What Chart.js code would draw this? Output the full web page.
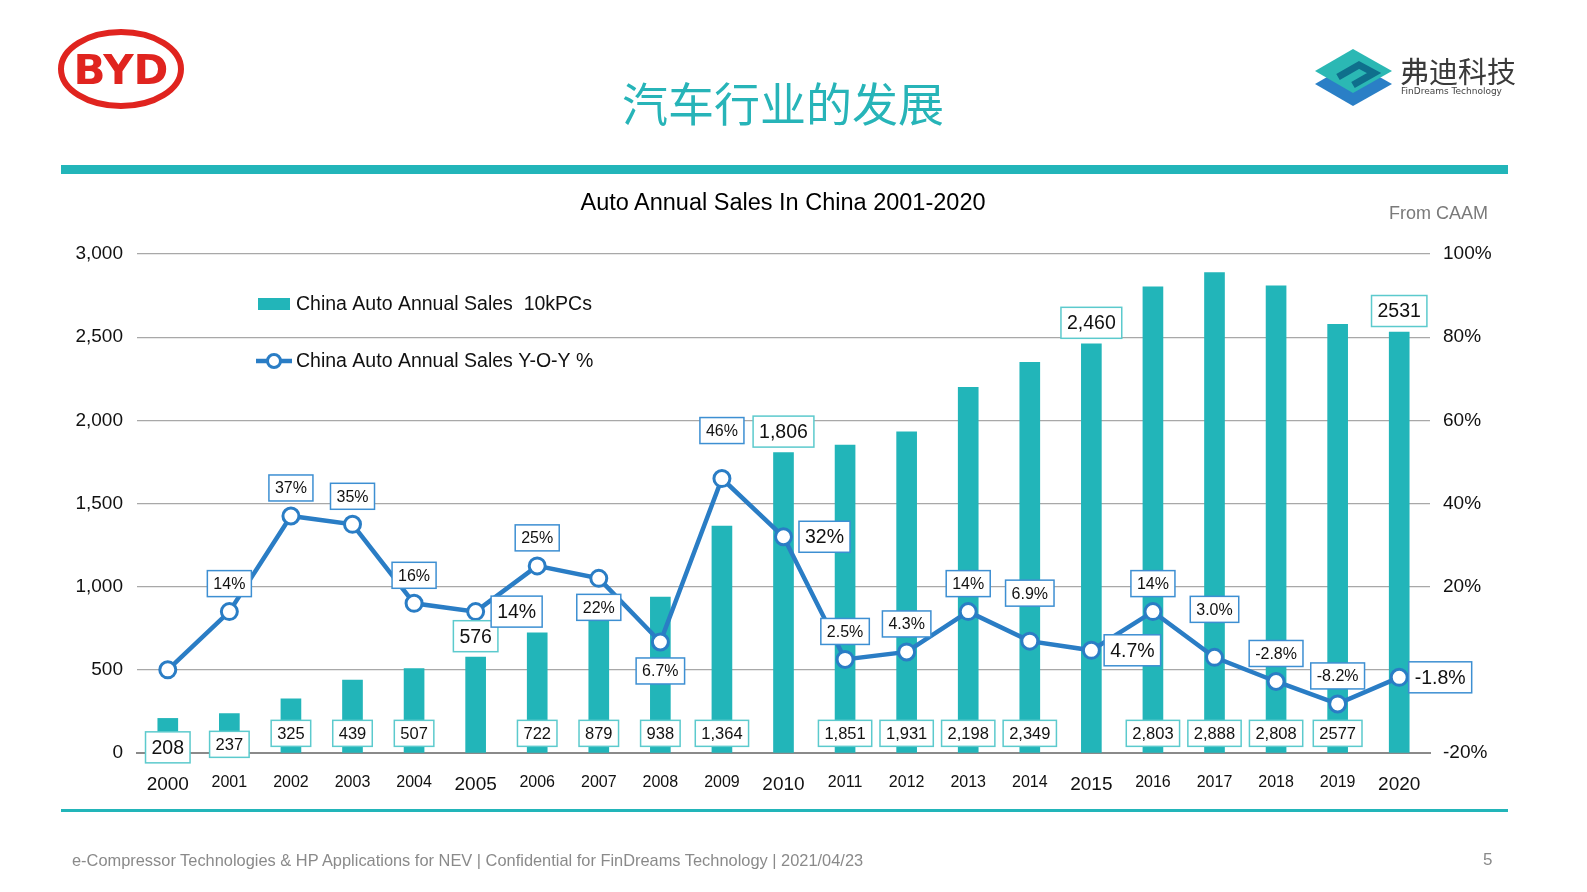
<!DOCTYPE html>
<html>
<head>
<meta charset="utf-8">
<script src="https://cdn.jsdelivr.net/npm/chart.js@4.4.1/dist/chart.umd.min.js"></script>
<style>
  html, body { margin: 0; padding: 0; overflow: hidden; }
  body { width: 1587px; height: 892px; background: #fff; position: relative;
         font-family: "Liberation Sans", Arial, sans-serif; }
  #salesChart { position: absolute; left: 0; top: 0; display: block; }
  .abs { position: absolute; white-space: nowrap; }
</style>
</head>
<body>
<canvas id="salesChart" width="1587" height="892"></canvas>

<!-- BYD logo -->
<svg class="abs" style="left:0;top:0" width="240" height="130">
  <ellipse cx="121" cy="69" rx="60" ry="37" fill="none" stroke="#e0241f" stroke-width="6"/>
  <text x="121" y="84" text-anchor="middle" font-family="DejaVu Sans" font-weight="bold" font-size="40" fill="#e0241f" transform="translate(121 0) scale(1.05 1) translate(-121 0)">BYD</text>
</svg>

<div class="abs" style="left:583px;width:400px;top:70px;text-align:center;font-family:'Noto Sans CJK SC';font-size:46px;line-height:62px;color:#27b4b8;">汽车行业的发展</div>

<!-- FinDreams logo -->
<svg class="abs" style="left:1300px;top:40px" width="240" height="75">
  <polygon points="15,44 53,22 92,44 53,66" fill="#2a7fc6"/>
  <polygon points="15,31 53,9 92,31 53,53" fill="#2bb8b4"/>
  <path d="M38,37 L59,25 L74,33 L53,45" fill="none" stroke="#0f6f8c" stroke-width="7"/>
  <text x="100" y="43" font-family="Noto Sans CJK SC" font-size="29" fill="#3a3a3a">弗迪科技</text>
  <text x="101" y="54" font-family="DejaVu Sans" font-size="9" fill="#444">FinDreams Technology</text>
</svg>

<div class="abs" style="left:61px;top:165px;width:1447px;height:9px;background:#22b5b9;"></div>
<div class="abs" style="left:433px;width:700px;top:189px;text-align:center;font-size:23.5px;color:#000;">Auto Annual Sales In China 2001-2020</div>
<div class="abs" style="left:1389px;top:203px;font-size:18px;color:#7a7a7a;">From CAAM</div>
<div class="abs" style="left:61px;top:809px;width:1447px;height:3px;background:#22b5b9;"></div>
<div class="abs" style="left:72px;top:851px;font-size:16.4px;color:#8a8a8a;">e-Compressor Technologies &amp; HP Applications for NEV | Confidential for FinDreams Technology | 2021/04/23</div>
<div class="abs" style="left:1483px;top:850px;font-size:17px;color:#8a8a8a;">5</div>

<script>
const years = ['2000','2001','2002','2003','2004','2005','2006','2007','2008','2009','2010',
               '2011','2012','2013','2014','2015','2016','2017','2018','2019','2020'];
const sales = [208, 237, 325, 439, 507, 576, 722, 879, 938, 1364, 1806,
               1851, 1931, 2198, 2349, 2460, 2803, 2888, 2808, 2577, 2531];
const salesText = ['208','237','325','439','507','576','722','879','938','1,364','1,806',
                   '1,851','1,931','2,198','2,349','2,460','2,803','2,888','2,808','2577','2531'];
const yoy = [0, 14, 37, 35, 16, 14, 25, 22, 6.7, 46, 32,
             2.5, 4.3, 14, 6.9, 4.7, 14, 3.0, -2.8, -8.2, -1.8];
const yoyText = ['', '14%','37%','35%','16%','14%','25%','22%','6.7%','46%','32%',
                 '2.5%','4.3%','14%','6.9%','4.7%','14%','3.0%','-2.8%','-8.2%','-1.8%'];

const TEAL = '#22b5b9';
const BLUE = '#2a7dc5';
const FONT = '"Liberation Sans", Arial, sans-serif';

// where each value box sits relative to its bar / point
const barLabelPos = ['low','low','base','base','base','top','base','base','base','base','top',
                     'base','base','base','base','top','base','base','base','base','top'];
const yoyLabelPos = ['none','up','up','up','up','right','up','down','down','high','right',
                     'up','up','up','high','right','up','high','up','up','right'];

function box(ctx, text, cx, cy, size, border) {
  ctx.font = size + 'px ' + FONT;
  const w = ctx.measureText(text).width + 12;
  const h = Math.round(size * 1.6);
  ctx.fillStyle = '#fff';
  ctx.fillRect(cx - w / 2, cy - h / 2, w, h);
  ctx.strokeStyle = border;
  ctx.lineWidth = 1.5;
  ctx.strokeRect(cx - w / 2, cy - h / 2, w, h);
  ctx.fillStyle = '#111';
  ctx.textAlign = 'center';
  ctx.textBaseline = 'middle';
  ctx.fillText(text, cx, cy + 1);
}

const valueBoxes = {
  id: 'valueBoxes',
  afterDatasetsDraw(chart) {
    const ctx = chart.ctx;
    ctx.save();
    const barMeta = chart.getDatasetMeta(1);
    barMeta.data.forEach((bar, i) => {
      const pos = barLabelPos[i];
      if (pos === 'top') box(ctx, salesText[i], bar.x, bar.y - 21, 19.5, '#5ccacd');
      else if (pos === 'low') box(ctx, salesText[i], bar.x, bar.base - (i === 0 ? 5 : 8), i === 0 ? 19.5 : 16.5, '#5ccacd');
      else box(ctx, salesText[i], bar.x, bar.base - 19, 16.5, '#5ccacd');
    });
    const lineMeta = chart.getDatasetMeta(0);
    lineMeta.data.forEach((pt, i) => {
      const pos = yoyLabelPos[i];
      if (pos === 'none') return;
      if (pos === 'right') box(ctx, yoyText[i], pt.x + 41, pt.y, 19.5, '#3d8fd2');
      else if (pos === 'down') box(ctx, yoyText[i], pt.x, pt.y + 29, 16, '#3d8fd2');
      else if (pos === 'high') box(ctx, yoyText[i], pt.x, pt.y - 48, 16, '#3d8fd2');
      else box(ctx, yoyText[i], pt.x, pt.y - 28, 16, '#3d8fd2');
    });
    ctx.restore();
  },
  afterDraw(chart) {
    // legend in the upper left of the plot
    const ctx = chart.ctx;
    const ds = chart.data.datasets;
    ctx.save();
    ctx.fillStyle = TEAL;
    ctx.fillRect(258, 298, 32, 12);
    ctx.strokeStyle = BLUE;
    ctx.lineWidth = 4.5;
    ctx.beginPath(); ctx.moveTo(256, 361); ctx.lineTo(292, 361); ctx.stroke();
    ctx.fillStyle = '#fff'; ctx.lineWidth = 3;
    ctx.beginPath(); ctx.arc(274, 361, 6.5, 0, Math.PI * 2); ctx.fill(); ctx.stroke();
    ctx.fillStyle = '#111';
    ctx.font = '19.5px ' + FONT;
    ctx.textAlign = 'left'; ctx.textBaseline = 'middle';
    ctx.fillText(ds[1].label, 296, 305);
    ctx.fillText(ds[0].label, 296, 362);
    ctx.restore();
  }
};

new Chart(document.getElementById('salesChart'), {
  data: {
    labels: years,
    datasets: [{
      type: 'line',
      label: 'China Auto Annual Sales Y-O-Y %',
      data: yoy,
      yAxisID: 'y1',
      order: 0,
      borderColor: BLUE,
      borderWidth: 4.5,
      pointRadius: 8,
      pointBackgroundColor: '#fff',
      pointBorderColor: BLUE,
      pointBorderWidth: 3,
      tension: 0
    }, {
      type: 'bar',
      label: 'China Auto Annual Sales  10kPCs',
      data: sales,
      yAxisID: 'y',
      order: 1,
      backgroundColor: TEAL,
      barThickness: 20
    }]
  },
  options: {
    responsive: false,
    animation: false,
    devicePixelRatio: 1,
    layout: { padding: { left: 62, right: 77, top: 254, bottom: 99 } },
    plugins: { legend: { display: false }, tooltip: { enabled: false } },
    scales: {
      x: {
        offset: true,
        grid: { display: false },
        border: { color: '#8a8a8a', width: 2 },
        afterFit(s) { s.height = 40; },
        ticks: {
          autoSkip: false, maxRotation: 0, padding: 12, color: '#111',
          font: (c) => ({ family: FONT, size: c.index % 5 === 0 ? 19 : 16 })
        }
      },
      y: {
        position: 'left', min: 0, max: 3000,
        afterFit(s) { s.width = 75; },
        grid: { color: '#a8a8a8', lineWidth: 1.3, drawTicks: false },
        border: { display: false },
        ticks: {
          stepSize: 500, padding: 14, color: '#111', font: { family: FONT, size: 19 },
          callback: (v) => v.toLocaleString('en-US')
        }
      },
      y1: {
        position: 'right', min: -20, max: 100,
        afterFit(s) { s.width = 80; },
        grid: { display: false, drawTicks: false },
        border: { display: false },
        ticks: {
          stepSize: 20, padding: 13, color: '#111', font: { family: FONT, size: 19 },
          callback: (v) => v + '%'
        }
      }
    }
  },
  plugins: [valueBoxes]
});
</script>
</body>
</html>
